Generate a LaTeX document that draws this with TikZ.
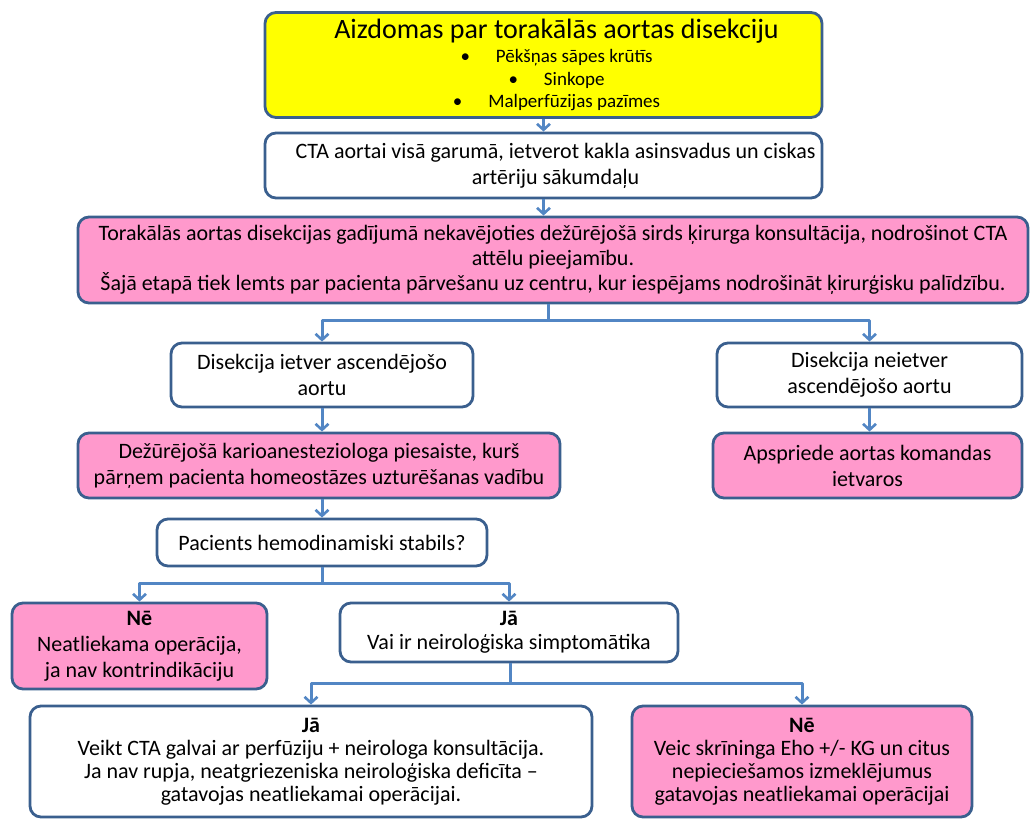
\documentclass[tikz,border=0pt]{standalone}
\usepackage{fontspec}
\setmainfont{Carlito}
\usetikzlibrary{calc,arrows.meta,positioning}

\definecolor{boxline}{HTML}{3A5F8E}
\definecolor{arrline}{HTML}{5286C4}
\definecolor{pinkfill}{HTML}{FF99CC}
\definecolor{yellowfill}{HTML}{FFFF00}

\begin{document}
\begin{tikzpicture}[x=1pt,y=-1pt,line join=round,
    box/.style={draw=boxline,line width=2.8pt,rounded corners=11pt,fill=white,
      align=center,inner sep=0pt,font=\fontsize{22}{26}\selectfont},
    pinkbox/.style={box,fill=pinkfill},
    conn/.style={draw=arrline,line width=3pt},
    arr/.style={conn,-{Straight Barb[length=6pt,width=13pt,line width=2.6pt]}}]
    \useasboundingbox (0,0) rectangle (1030,819);
    % top part
    \node[box,fill=yellowfill,font=\fontsize{19}{22.5}\selectfont,
          minimum width=557pt,minimum height=105pt] (susp) at (543.5,65)
      {\hspace*{26pt}\fontsize{28}{28}\selectfont Aizdomas par torakālās aortas disekciju\\[2pt]
       \hspace*{26pt}\textbullet\hspace{26pt}Pēkšņas sāpes krūtīs\\
       \hspace*{26pt}\textbullet\hspace{26pt}Sinkope\\
       \hspace*{26pt}\textbullet\hspace{26pt}Malperfūzijas pazīmes};
    \node[box,minimum width=557pt,minimum height=65pt] (cta) at (543.5,165.5)
      {\hspace*{24pt}CTA aortai visā garumā, ietverot kakla asinsvadus un ciskas\\\hspace*{24pt}artēriju sākumdaļu};
    \node[pinkbox,font=\fontsize{22}{25}\selectfont,minimum width=950pt,minimum height=86pt] (konsult) at (553,260)
      {Torakālās aortas disekcijas gadījumā nekavējoties dežūrējošā sirds ķirurga konsultācija, nodrošinot CTA\\
       attēlu pieejamību.\\
       Šajā etapā tiek lemts par pacienta pārvešanu uz centru, kur iespējams nodrošināt ķirurģisku palīdzību.};
    % two branches
    \node[box,minimum width=302pt,minimum height=64pt] (asc) at (322,375)
      {Disekcija ietver ascendējošo\\aortu};
    \node[box,minimum width=305pt,minimum height=64pt] (neasc) at (869.5,375)
      {Disekcija neietver\\ascendējošo aortu};
    \node[pinkbox,minimum width=482pt,minimum height=65pt] (anest) at (319,465.5)
      {Dežūrējošā karioanesteziologa piesaiste, kurš\\pārņem pacienta homeostāzes uzturēšanas vadību};
    \node[pinkbox,minimum width=309pt,minimum height=65pt] (apspr) at (867.5,465.5)
      {Apspriede aortas komandas\\ietvaros};
    \node[box,minimum width=330pt,minimum height=47pt] (stab) at (322,542.5)
      {Pacients hemodinamiski stabils?};
    \node[pinkbox,minimum width=255pt,minimum height=86pt] (ne1) at (139.5,646)
      {\textbf{Nē}\\Neatliekama operācija,\\ja nav kontrindikāciju};
    \node[box,font=\fontsize{22}{24}\selectfont,minimum width=338pt,minimum height=59pt] (ja1) at (509,632.5)
      {\textbf{Jā}\\Vai ir neiroloģiska simptomātika};
    \node[box,font=\fontsize{22}{23}\selectfont,minimum width=562pt,minimum height=111pt] (ja2) at (311,761.5)
      {\textbf{Jā}\\Veikt CTA galvai ar perfūziju + neirologa konsultācija.\\
       Ja nav rupja, neatgriezeniska neiroloģiska deficīta --\\gatavojas neatliekamai operācijai.};
    \node[pinkbox,font=\fontsize{22}{23}\selectfont,minimum width=340pt,minimum height=111pt] (ne2) at (802,761.5)
      {\textbf{Nē}\\Veic skrīninga Eho +/- KG un citus\\nepieciešamos izmeklējumus\\gatavojas neatliekamai operācijai};
    % connectors
    \coordinate (j1) at (548,320);
    \coordinate (j2) at (322,583);
    \coordinate (j3) at (510,683);
    \draw[arr] (susp.south -| cta.north) -- (cta.north);
    \draw[arr] (cta.south) -- (cta.south |- konsult.north);
    \draw[conn] (j1 |- konsult.south) -- (j1);
    \draw[arr] (j1) -| (asc.north);
    \draw[arr] (j1) -| (neasc.north);
    \draw[arr] (asc.south) -- (asc.south |- anest.north);
    \draw[arr] (neasc.south) -- (neasc.south |- apspr.north);
    \draw[arr] (anest.south -| stab.north) -- (stab.north);
    \draw[conn] (stab.south) -- (j2);
    \draw[arr] (j2) -| (ne1.north);
    \draw[arr] (j2) -| (ja1.north);
    \draw[conn] (j3 |- ja1.south) -- (j3);
    \draw[arr] (j3) -| (ja2.north);
    \draw[arr] (j3) -| (ne2.north);
\end{tikzpicture}
\end{document}
